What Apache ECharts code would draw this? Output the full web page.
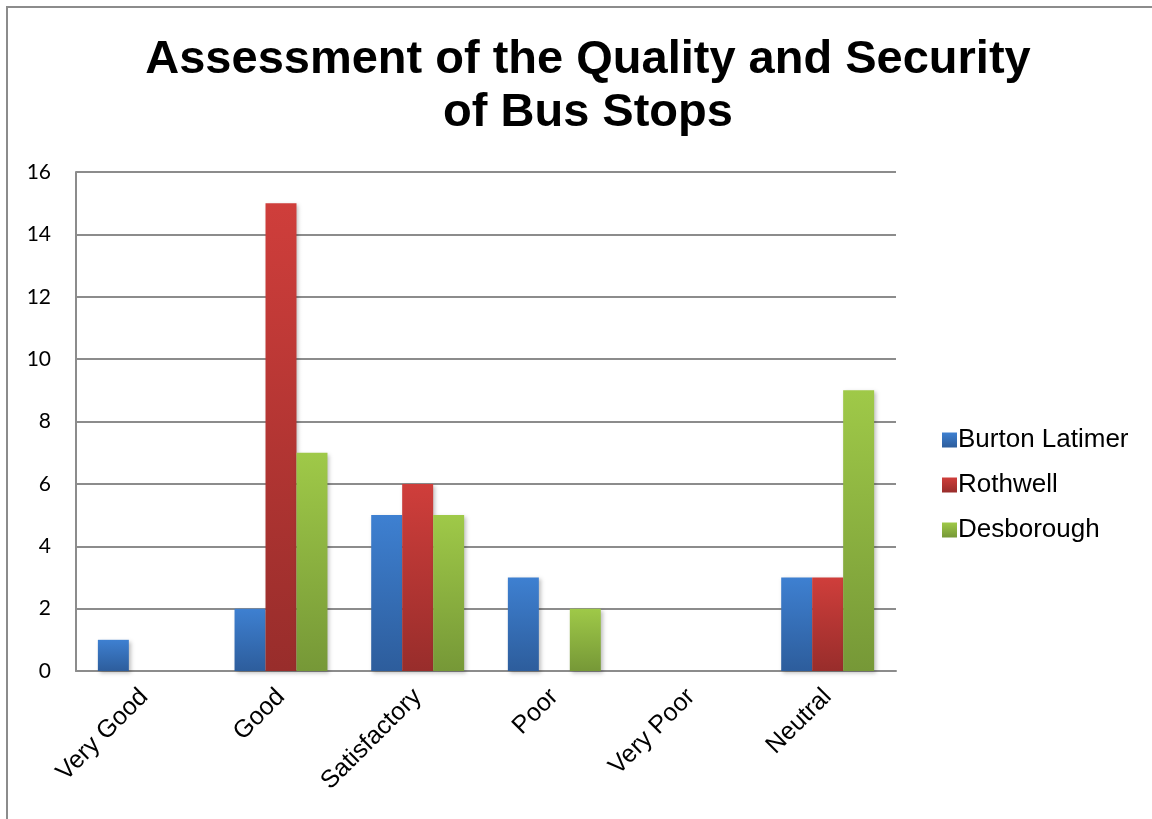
<!DOCTYPE html>
<html>
<head>
<meta charset="utf-8">
<script src="https://cdn.jsdelivr.net/npm/echarts@6/dist/echarts.min.js"></script>
<style>
  html, body { margin: 0; padding: 0; background: #fff; }
  #chart { width: 1152px; height: 819px; }
</style>
</head>
<body>
<div id="chart"></div>
<script>
const categories = ['Very Good', 'Good', 'Satisfactory', 'Poor', 'Very Poor', 'Neutral']
const burtonLatimer = [1, 2, 5, 3, 0, 3]
const rothwell = [0, 15, 6, 0, 0, 3]
const desborough = [0, 7, 5, 2, 0, 9]
const yTicks = { min: 0, max: 16, interval: 2 }

const grad = (top, bottom) => new echarts.graphic.LinearGradient(0, 0, 0, 1, [
    { offset: 0, color: top },
    { offset: 1, color: bottom }
])

const makeSeries = (name, data, top, bottom) => ({
    name: name,
    type: 'bar',
    data: data,
    barGap: '0%',
    barCategoryGap: '32%',
    itemStyle: {
        color: grad(top, bottom),
        shadowColor: 'rgba(0,0,0,0.25)',
        shadowBlur: 4,
        shadowOffsetX: 2,
        shadowOffsetY: 2
    },
    animation: false
})

const chart = echarts.init(document.getElementById('chart'))
chart.setOption({
    backgroundColor: '#fff',
    textStyle: { fontFamily: 'Liberation Sans, Arial, sans-serif' },
    graphic: [{
        type: 'rect',
        shape: { x: 7, y: 7, width: 1170, height: 840 },
        style: { fill: 'none', stroke: '#8c8c8c', lineWidth: 2 },
        silent: true
    }],
    title: {
        text: 'Assessment of the Quality and Security\nof Bus Stops',
        left: 583,
        top: 29,
        textAlign: 'center',
        textStyle: {
            fontFamily: 'Liberation Sans, Arial, sans-serif',
            fontSize: 47,
            fontWeight: 'bold',
            lineHeight: 53,
            color: '#000'
        }
    },
    legend: {
        orient: 'vertical',
        left: 937,
        top: 422,
        itemWidth: 15,
        itemHeight: 15,
        itemGap: 19,
        icon: 'rect',
        textStyle: {
            fontFamily: 'Liberation Sans, Arial, sans-serif',
            fontSize: 26,
            lineHeight: 26,
            color: '#000',
            padding: [0, 0, 0, -4]
        },
        data: ['Burton Latimer', 'Rothwell', 'Desborough']
    },
    grid: {
        left: 76,
        right: 256,
        top: 172,
        bottom: 148,
        containLabel: false
    },
    xAxis: {
        type: 'category',
        data: categories,
        axisLine: { lineStyle: { color: '#8c8c8c', width: 2 } },
        axisTick: { show: false },
        axisLabel: {
            rotate: 45,
            margin: 22,
            interval: 0,
            fontFamily: 'Liberation Sans, Arial, sans-serif',
            fontSize: 25,
            color: '#000'
        }
    },
    yAxis: {
        type: 'value',
        min: yTicks.min,
        max: yTicks.max,
        interval: yTicks.interval,
        axisLine: { show: true, lineStyle: { color: '#8c8c8c', width: 2 } },
        axisTick: { show: false },
        splitLine: { lineStyle: { color: '#8c8c8c', width: 2 } },
        axisLabel: {
            margin: 25,
            fontFamily: 'Lato, Open Sans, sans-serif',
            fontSize: 21,
            color: '#000'
        }
    },
    series: [
        makeSeries('Burton Latimer', burtonLatimer, '#3e80d1', '#2d5d9c'),
        makeSeries('Rothwell', rothwell, '#cf3e3b', '#982d2b'),
        makeSeries('Desborough', desborough, '#9fc948', '#769837')
    ]
})
</script>
</body>
</html>
